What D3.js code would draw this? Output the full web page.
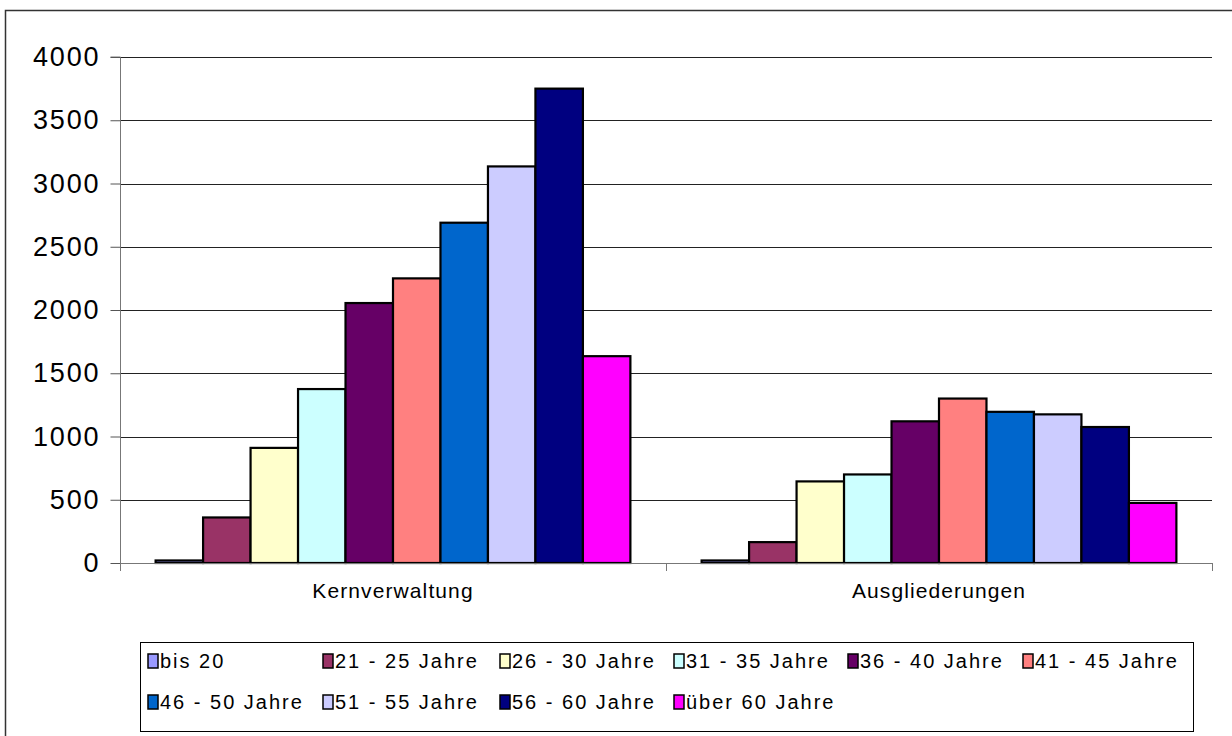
<!DOCTYPE html>
<html><head><meta charset="utf-8">
<script src="https://cdn.jsdelivr.net/npm/d3@7"></script>
<style>body{margin:0;background:#fff}svg{display:block}text{font-family:"Liberation Sans",Arial,sans-serif;fill:#000}</style>
</head><body>
<svg id="c" width="1232" height="736"></svg>
<script>
const categories = ["Kernverwaltung", "Ausgliederungen"];
const seriesNames = ["bis 20","21 - 25 Jahre","26 - 30 Jahre","31 - 35 Jahre","36 - 40 Jahre","41 - 45 Jahre","46 - 50 Jahre","51 - 55 Jahre","56 - 60 Jahre","über 60 Jahre"];
const kernverwaltung = [20, 360, 910, 1375, 2055, 2250, 2690, 3135, 3750, 1635];
const ausgliederungen = [20, 165, 645, 700, 1120, 1300, 1195, 1175, 1075, 475];
const colors = ["#9999FF","#993366","#FFFFCC","#CCFFFF","#660066","#FF8080","#0066CC","#CCCCFF","#000080","#FF00FF"];
const yTicks = [0,500,1000,1500,2000,2500,3000,3500,4000];

const values = [kernverwaltung, ausgliederungen];
const svg = d3.select("#c");
const L = 120, R = 1212, T = 57, B = 563;

// outer border
svg.append("rect").attr("x",5.5).attr("y",10.5).attr("width",1260).attr("height",760)
  .attr("fill","none").attr("stroke","#333").attr("stroke-width",1.5);

const x0 = d3.scaleBand().domain(categories).range([L,R]).paddingInner(0).paddingOuter(0);
const x1 = d3.scaleBand().domain(seriesNames).range([0,x0.bandwidth()]).paddingInner(0).paddingOuter(0.75);
const y = d3.scaleLinear().domain([0,4000]).range([B,T]);

// gridlines
svg.append("g").selectAll("line").data(yTicks.filter(d=>d>0)).join("line")
  .attr("x1",L).attr("x2",R).attr("y1",d=>Math.round(y(d))+0.5).attr("y2",d=>Math.round(y(d))+0.5)
  .attr("stroke","#222").attr("stroke-width",1);

// bars
const g = svg.append("g");
categories.forEach((c,ci)=>{
  g.append("g").selectAll("rect").data(values[ci]).join("rect")
    .attr("x",(d,i)=>x0(c)+x1(seriesNames[i]))
    .attr("y",d=>y(d))
    .attr("width",x1.bandwidth())
    .attr("height",d=>B-y(d))
    .attr("fill",(d,i)=>colors[i])
    .attr("stroke","#000").attr("stroke-width",2.2);
});

// y axis
const yAxis = d3.axisLeft(y).tickValues(yTicks).tickSize(10).tickPadding(12).tickFormat(d3.format("d"));
const ya = svg.append("g").attr("transform",`translate(${L+0.5},0)`).call(yAxis);
ya.select(".domain").attr("stroke","#777").attr("d",`M-10,${T}H0V${B}`);
ya.selectAll(".tick line").attr("stroke","#555");
ya.selectAll(".tick text").style("font-size","27px").style("letter-spacing","1.8px").attr("dx","1.8").attr("font-family",null);

// x axis
const xAxis = d3.axisBottom(x0).tickSize(0).tickPadding(20);
const xa = svg.append("g").attr("transform",`translate(0,${B+0.5})`).call(xAxis);
xa.select(".domain").attr("stroke","#777").attr("d",`M${L},0H${R}`);
xa.selectAll(".tick text").style("font-size","21px").style("letter-spacing","1.1px").attr("font-family",null);
// boundary tick marks
svg.append("g").selectAll("line").data([L, L+x0.bandwidth(), R]).join("line")
  .attr("x1",d=>d+0.5).attr("x2",d=>d+0.5).attr("y1",B).attr("y2",B+8)
  .attr("stroke","#777");

// legend
const lg = svg.append("g");
lg.append("rect").attr("x",140.5).attr("y",642.5).attr("width",1053).attr("height",89)
  .attr("fill","#fff").attr("stroke","#000").attr("stroke-width",1);
const colX = [148, 323, 500, 674, 848, 1023];
const rowY = [668, 709];
seriesNames.forEach((s,i)=>{
  const r = Math.floor(i/6), c = i%6;
  const item = lg.append("g").attr("transform",`translate(${colX[c]},${rowY[r]})`);
  item.append("rect").attr("x",0).attr("y",-14).attr("width",10).attr("height",14)
    .attr("fill",colors[i]).attr("stroke","#000").attr("stroke-width",1.5);
  item.append("text").attr("x",12).attr("y",0).style("font-size","20px").style("letter-spacing","2px").text(s);
});
</script>
</body></html>
